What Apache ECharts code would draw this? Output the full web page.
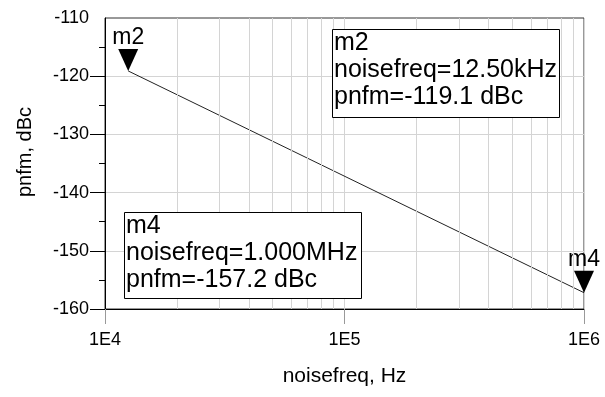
<!DOCTYPE html>
<html><head><meta charset="utf-8">
<script src="https://cdn.jsdelivr.net/npm/echarts@6/dist/echarts.min.js"></script>
<style>html,body{margin:0;padding:0;background:#fff}#c{width:605px;height:397px}</style>
</head><body><div id="c"></div>
<script>
// ---- data ----
const traceFreq = [12500, 1000000];
const traceDbc = [-119.1, -157.2];
const markerNames = ['m2', 'm4'];
const markerFreq = [12500, 1000000];
const markerDbc = [-119.1, -157.2];
const xMinorGrid = [2e4, 3e4, 4e4, 5e4, 6e4, 7e4, 8e4, 9e4, 2e5, 3e5, 4e5, 5e5, 6e5, 7e5, 8e5, 9e5];
const yMajorTicks = [-160, -150, -140, -130, -120];
const yMin = -160, yMax = -110, yStep = 10;
const xMin = 1e4, xMax = 1e6;
const xTitle = 'noisefreq, Hz';
const yTitle = 'pnfm, dBc';

// ---- formatting ----
const FONT = '"Liberation Sans", Arial, sans-serif';
function fmtFreq(f) {
  const units = [[1e9, 'GHz'], [1e6, 'MHz'], [1e3, 'kHz'], [1, 'Hz']];
  for (const [s, u] of units) if (f >= s) return (f / s).toPrecision(4) + u;
  return String(f);
}
function boxText(i) {
  return markerNames[i] + '\nnoisefreq=' + fmtFreq(markerFreq[i]) + '\npnfm=' + markerDbc[i].toFixed(1) + ' dBc';
}
const boxLayout = [
  { left: 332, top: 29, w: 227, h: 88 },
  { left: 124, top: 212, w: 237, h: 86 }
];

const chart = echarts.init(document.getElementById('c'), null, { renderer: 'canvas' });
const GRID = '#d4d4d4';

const option = {
  animation: false,
  backgroundColor: '#fff',
  grid: { left: 105, right: 21, top: 18, bottom: 88, show: true, borderColor: '#333', borderWidth: 1, backgroundColor: 'transparent' },
  xAxis: {
    type: 'log', logBase: 10, min: xMin, max: xMax,
    name: xTitle, nameLocation: 'middle', nameGap: 57,
    nameTextStyle: { fontSize: 21, color: '#000', fontFamily: FONT },
    axisLine: { show: true, onZero: false, lineStyle: { color: '#000', width: 1 } },
    axisTick: { show: true, inside: false, length: 15, lineStyle: { color: '#999' } },
    axisLabel: { margin: 22, fontSize: 18, color: '#000', fontFamily: FONT,
      formatter: v => '1E' + Math.round(Math.log10(v)) },
    splitLine: { show: true, lineStyle: { color: GRID, width: 1 } }
  },
  yAxis: {
    type: 'value', min: yMin, max: yMax, interval: yStep,
    name: yTitle, nameLocation: 'middle', nameGap: 70,
    nameTextStyle: { fontSize: 20, color: '#000', fontFamily: FONT, padding: [0, 0, 0, 23] },
    axisLine: { show: true, onZero: false, lineStyle: { color: '#000', width: 1 } },
    axisTick: { show: true, inside: false, length: 15, customValues: yMajorTicks, lineStyle: { color: '#000' } },
    minorTick: { show: true, splitNumber: 2, length: 6, lineStyle: { color: '#000' } },
    axisLabel: { margin: 16, fontSize: 18, color: '#000', fontFamily: FONT },
    splitLine: { show: true, lineStyle: { color: GRID, width: 1 } }
  },
  series: [
    {
      type: 'line', data: [], z: 1, silent: true,
      markLine: {
        silent: true, symbol: ['none', 'none'], label: { show: false },
        lineStyle: { color: GRID, type: 'solid', width: 1 },
        emphasis: { disabled: true },
        data: xMinorGrid.map(v => ({ xAxis: v }))
      }
    },
    {
      type: 'line', z: 3, silent: true, showSymbol: false,
      data: traceFreq.map((f, i) => [f, traceDbc[i]]),
      lineStyle: { color: '#222', width: 1 }
    },
    {
      type: 'scatter', z: 4, silent: true,
      data: markerFreq.map((f, i) => [f, markerDbc[i]]),
      symbol: 'path://M0 0L20 0L10 22Z',
      symbolSize: [20, 22], symbolOffset: [0, '-50%'],
      itemStyle: { color: '#000', opacity: 1 },
      label: { show: true, position: 'top', distance: 0, fontSize: 23, color: '#000', fontFamily: FONT,
        formatter: p => markerNames[p.dataIndex] }
    }
  ],
  graphic: boxLayout.map((b, i) => ({
    type: 'group', left: b.left, top: b.top, z: 100,
    children: [
      { type: 'rect', z: 100, shape: { x: 0.5, y: 0.5, width: b.w, height: b.h }, style: { fill: '#fff', stroke: '#000', lineWidth: 1 } },
      { type: 'text', z: 101, x: 2, y: 1, style: { text: boxText(i), font: '25px ' + FONT, fill: '#000', lineHeight: 27 } }
    ]
  }))
};
chart.setOption(option);
</script>
</body></html>
